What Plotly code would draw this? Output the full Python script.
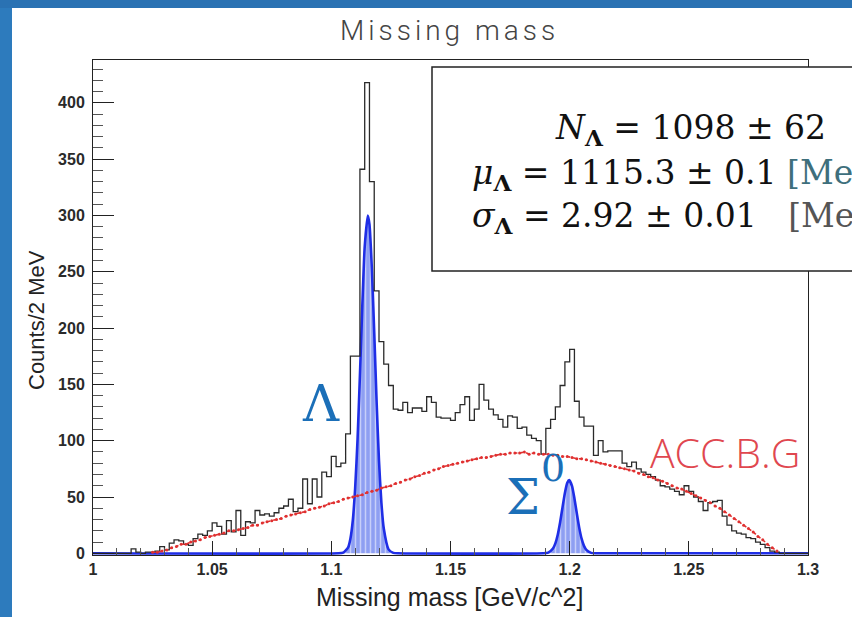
import plotly.graph_objects as go

# ---------------- data ----------------
bin_low = 1.0
bin_width = 0.002  # 2 MeV bins

# black histogram: counts / 2 MeV (150 bins, 1.000 - 1.300 GeV)
counts = [
    0, 0, 0, 0, 0, 0, 0, 0, 4, 1,
    0, 1, 1, 2, 6, 3, 9, 12, 11, 8,
    7, 13, 17, 16, 20, 27, 24, 17, 29, 19,
    38, 16, 28, 27, 38, 34, 35, 33, 36, 40,
    42, 48, 37, 40, 66, 44, 66, 50, 72, 68,
    86, 77, 80, 106, 175, 175, 341, 418, 330, 233,
    188, 168, 149, 128, 127, 134, 125, 129, 129, 126,
    139, 134, 121, 120, 120, 118, 125, 132, 139, 118,
    128, 150, 136, 128, 123, 119, 112, 122, 121, 111,
    112, 105, 102, 100, 88, 111, 119, 130, 149, 170,
    181, 135, 121, 113, 113, 87, 100, 90, 91, 91,
    91, 80, 77, 81, 75, 72, 70, 68, 65, 60,
    59, 57, 55, 52, 60, 55, 50, 46, 38, 45,
    46, 47, 33, 25, 20, 18, 17, 14, 13, 10,
    8, 5, 2, 1, 0, 0, 0, 0, 0, 0,
]

# red accidental background (per bin)
acc_bg = [
    0, 0, 0, 0, 0, 0, 0, 0, 0, 0,
    0, 0, 1, 1, 2, 3, 5, 6, 8, 8,
    10, 11, 12, 14, 15, 16, 17, 18, 20, 20,
    21, 22, 23, 25, 25, 27, 28, 29, 30, 31,
    33, 34, 35, 36, 37, 39, 40, 41, 42, 44,
    45, 46, 48, 49, 50, 51, 52, 54, 55, 56,
    58, 59, 60, 62, 63, 65, 66, 68, 69, 71,
    72, 74, 75, 77, 78, 79, 80, 81, 82, 83,
    84, 85, 85, 86, 87, 88, 88, 89, 89, 89,
    90, 88, 89, 88, 88, 88, 87, 87, 86, 86,
    85, 84, 84, 83, 82, 81, 80, 79, 78, 77,
    76, 75, 74, 73, 71, 70, 68, 67, 65, 64,
    62, 60, 58, 57, 55, 53, 51, 49, 47, 45,
    42, 40, 37, 34, 31, 28, 25, 22, 19, 15,
    12, 8, 5, 2, 0, 0, 0, 0, 0, 0,
]

# blue fit curve (Lambda and Sigma0 peaks)
fit_x = [1.000, 1.103, 1.105, 1.107, 1.108, 1.109, 1.110, 1.111, 1.112, 1.113,
         1.114, 1.1153, 1.116, 1.117, 1.118, 1.119, 1.120, 1.121, 1.122, 1.124,
         1.126, 1.128, 1.189, 1.191, 1.193, 1.194, 1.195, 1.196, 1.197, 1.198,
         1.199, 1.1998, 1.201, 1.202, 1.203, 1.204, 1.205, 1.206, 1.207, 1.209,
         1.211, 1.300]
fit_y = [0, 0, 0.6, 5, 13, 29, 58, 101, 158, 220,
         272, 300, 292, 253, 196, 134, 82, 45, 22, 3.5,
         0.4, 0, 0, 0.6, 4.2, 8.8, 16.5, 27.6, 40.8, 53.6,
         62.6, 65, 59.7, 48.7, 35.4, 22.8, 13, 6.6, 3, 0.4,
         0, 0]

x_tick_vals = [1.0, 1.05, 1.1, 1.15, 1.2, 1.25, 1.3]
x_tick_text = ["1", "1.05", "1.1", "1.15", "1.2", "1.25", "1.3"]
y_tick_vals = [0, 50, 100, 150, 200, 250, 300, 350, 400]

# ---------------- derived ----------------
nb = len(counts)
edges = [bin_low + bin_width * i for i in range(nb + 1)]
centers = [bin_low + bin_width * (i + 0.5) for i in range(nb)]
step_y = counts + [counts[-1]]
acc_plot = [v if v > 0 else None for v in acc_bg]

W, H = 852, 617
L, R, T, B = 93, 44, 60, 62
PW, PH = W - L - R, H - T - B


def px(x):
    return (x - L) / PW


def py(y):
    return (H - B - y) / PH


fig = go.Figure()

fig.add_trace(go.Scatter(
    x=fit_x, y=fit_y, mode="lines", line=dict(color="#1f2ee6", width=2.6, shape="spline", smoothing=0.5),
    fill="tozeroy", fillcolor="#93a3f2",
    fillpattern=dict(shape="|", fgcolor="#ffffff", bgcolor="#8e9ff2", size=5, solidity=0.3),
    hoverinfo="skip", showlegend=False))

fig.add_trace(go.Scatter(
    x=edges, y=step_y, mode="lines", line=dict(color="#2a2a2a", width=1.3, shape="hv"),
    showlegend=False))

fig.add_trace(go.Scatter(
    x=centers, y=acc_plot, mode="lines+markers",
    line=dict(color="#e03030", width=1.6, dash="dot"),
    marker=dict(color="#e03030", size=3),
    showlegend=False))

fig.update_layout(
    width=W, height=H,
    margin=dict(l=L, r=R, t=T, b=B),
    paper_bgcolor="white", plot_bgcolor="white",
    font=dict(family="Liberation Sans, Arial, sans-serif", color="#222", size=16),
    xaxis=dict(range=[1.0, 1.3], tickvals=x_tick_vals, ticktext=x_tick_text,
               ticks="inside", ticklen=14, tickcolor="#222", tickwidth=1,
               minor=dict(dtick=0.01, ticks="inside", ticklen=7, tickcolor="#555"),
               showline=True, linecolor="#222", linewidth=1, mirror=True,
               showgrid=False, zeroline=False,
               tickfont=dict(size=16, color="#2a2a2a", weight="bold")),
    yaxis=dict(range=[-1.5, 438], tickvals=y_tick_vals,
               ticks="inside", ticklen=21, tickcolor="#222", tickwidth=1,
               minor=dict(dtick=10, ticks="inside", ticklen=10, tickcolor="#555"),
               showline=True, linecolor="#222", linewidth=1, mirror=True,
               showgrid=False, zeroline=False, ticklabelstandoff=4,
               tickfont=dict(size=16, color="#2a2a2a", weight="bold")),
)

shapes = [
    # slide border strips
    dict(type="rect", xref="paper", yref="paper", x0=px(0), x1=px(12), y0=py(H), y1=py(0),
         fillcolor="#2d7bbd", line=dict(width=0), layer="above"),
    dict(type="rect", xref="paper", yref="paper", x0=px(0), x1=px(W), y0=py(8), y1=py(0),
         fillcolor="#2a72b3", line=dict(width=0), layer="above"),
    # fit result box
    dict(type="rect", xref="paper", yref="paper", x0=px(432), x1=px(920), y0=py(271), y1=py(67),
         fillcolor="white", line=dict(color="#222", width=1.5), layer="above"),
]
fig.update_layout(shapes=shapes)

serif = "DejaVu Serif, Liberation Serif, serif"
ann = [
    dict(text='<span style="letter-spacing:4px">Missing mass</span>', x=px(449), y=py(30),
         font=dict(family="Roboto, Lato, sans-serif", size=28, color="#444", weight=300)),
    dict(text="Counts/2 MeV", x=px(36), y=py(320), textangle=-90,
         font=dict(family="Liberation Sans, Arial, sans-serif", size=22, color="#222")),
    dict(text="Missing mass [GeV/c^2]", x=px(449), y=py(597),
         font=dict(family="Liberation Sans, Arial, sans-serif", size=25, color="#222")),
    dict(text="Λ", x=px(321), y=py(404),
         font=dict(family=serif, size=50, color="#1b6fb8")),
    dict(text="Σ", x=px(523), y=py(497),
         font=dict(family=serif, size=48, color="#1b6fb8")),
    dict(text="0", x=px(553), y=py(468),
         font=dict(family=serif, size=38, color="#1b6fb8")),
    dict(text="ACC.B.G", x=px(725), y=py(452),
         font=dict(family="Open Sans, Lato, sans-serif", size=41, color="#e0474f", weight=300)),
    dict(text="<i>N</i><sub><b>Λ</b></sub> = 1098 ± 62", x=px(553), y=py(129), xanchor="left",
         font=dict(family=serif, size=33, color="#111")),
    dict(text="<i>μ</i><sub><b>Λ</b></sub> = 1115.3 ± 0.1 <span style='fill:#3e6f7c'>[MeV]</span>",
         x=px(470), y=py(174), xanchor="left",
         font=dict(family=serif, size=33, color="#111")),
    dict(text="<i>σ</i><sub><b>Λ</b></sub> = 2.92 ± 0.01\u00a0\u00a0\u00a0<span style='fill:#555'>[MeV]</span>",
         x=px(470), y=py(217), xanchor="left",
         font=dict(family=serif, size=33, color="#111")),
]
for a in ann:
    a.setdefault("xanchor", "center")
    a.update(xref="paper", yref="paper", showarrow=False, yanchor="middle")
fig.update_layout(annotations=ann)

fig.write_html("out.html", config={"displayModeBar": False},
               post_script="document.body.style.margin='0px';")
